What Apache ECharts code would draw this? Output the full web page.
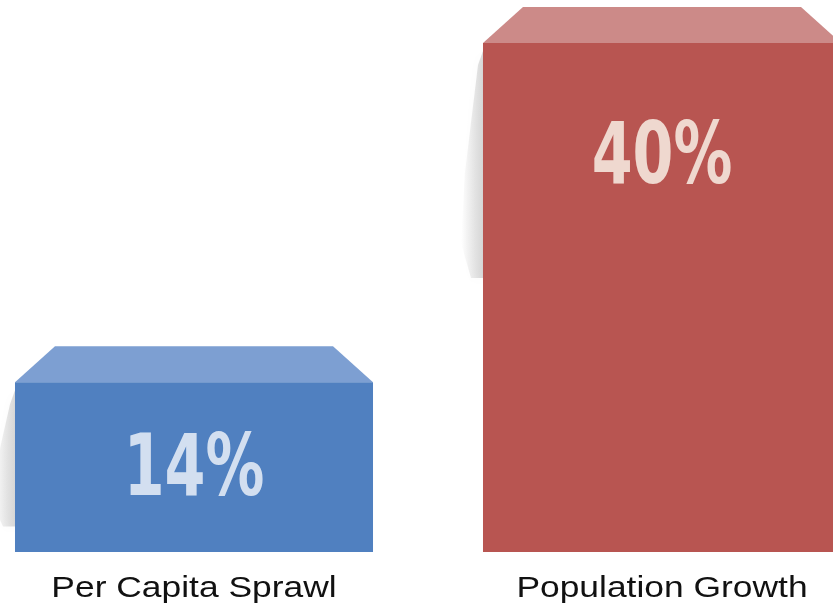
<!DOCTYPE html>
<html>
<head>
<meta charset="utf-8">
<script src="https://cdn.jsdelivr.net/npm/echarts@6/dist/echarts.min.js"></script>
<style>
  html, body { margin: 0; padding: 0; background: #ffffff; }
  #chart { width: 833px; height: 607px; }
</style>
</head>
<body>
<div id="chart"></div>
<script>
// Share of growth by driver (percent)
const categories = ['Per Capita Sprawl', 'Population Growth'];
const values = [14, 40];

// Face colours for each block: front, top, label
const frontColors = ['#5080c0', '#b85551'];
const topColors = ['#7d9fd2', '#cc8a88'];
const labelColors = ['#d3dff0', '#efd8cf'];

const Y_MIN = 1;
const Y_MAX = 40;

function renderBlock(params, api) {
  const idx = params.dataIndex;
  const v = api.value(1);
  const topPt = api.coord([api.value(0), v]);
  const basePt = api.coord([api.value(0), Y_MIN]);
  const step = api.size([1, 0])[0];
  const w = step * 0.765;
  const cx = topPt[0];
  const x0 = cx - w / 2;
  const x1 = cx + w / 2;
  const yT = topPt[1];
  const yB = basePt[1];
  const h = yB - yT;
  const depth = 36;
  const inset = 40;

  const shLen = Math.min(h * 0.85, 235);
  const children = [
    // soft shadow cast to the left of the block
    {
      type: 'polygon',
      shape: {
        points: [
          [x0, yT + 8],
          [x0 - 5, yT + 22],
          [x0 - 18, yT + shLen * 0.55],
          [x0 - 22, yT + shLen * 0.85],
          [x0 - 12, yT + shLen],
          [x0, yT + shLen]
        ]
      },
      style: {
        fill: new echarts.graphic.LinearGradient(0, 0, 1, 0, [
          { offset: 0, color: 'rgba(130,130,130,0)' },
          { offset: 1, color: 'rgba(130,130,130,0.3)' }
        ]),
        shadowBlur: 10,
        shadowColor: 'rgba(0,0,0,0.1)'
      }
    },
    // top face
    {
      type: 'polygon',
      shape: {
        points: [
          [x0, yT],
          [x0 + inset, yT - depth],
          [x1 - inset, yT - depth],
          [x1, yT]
        ]
      },
      style: { fill: topColors[idx] }
    },
    // front face
    {
      type: 'rect',
      shape: { x: x0, y: yT, width: w, height: h },
      style: { fill: frontColors[idx] }
    },
    // value label
    {
      type: 'text',
      x: cx,
      y: yT + Math.min(h / 2 - 5, 108) + 10,
      scaleX: 0.76,
      style: {
        text: v + '%',
        fill: labelColors[idx],
        font: "bold 86px 'Liberation Sans Narrow', 'DejaVu Sans Condensed', sans-serif",
        align: 'center',
        verticalAlign: 'middle'
      }
    },
    // category name under the block
    {
      type: 'text',
      x: cx,
      y: yB + 37,
      scaleX: 1.18,
      style: {
        text: categories[idx],
        fill: '#111111',
        font: "30px 'Liberation Sans', Arial, sans-serif",
        align: 'center',
        verticalAlign: 'middle'
      }
    }
  ];
  return { type: 'group', children: children };
}

const chart = echarts.init(document.getElementById('chart'), null, { renderer: 'canvas' });
chart.setOption({
  animation: false,
  backgroundColor: '#ffffff',
  grid: { left: 194, right: 171, top: 43, bottom: 55 },
  xAxis: {
    type: 'category',
    data: categories,
    boundaryGap: false,
    show: false
  },
  yAxis: {
    type: 'value',
    min: Y_MIN,
    max: Y_MAX,
    show: false
  },
  series: [{
    type: 'custom',
    renderItem: renderBlock,
    clip: false,
    data: values.map((v, i) => [i, v])
  }]
});
</script>
</body>
</html>
